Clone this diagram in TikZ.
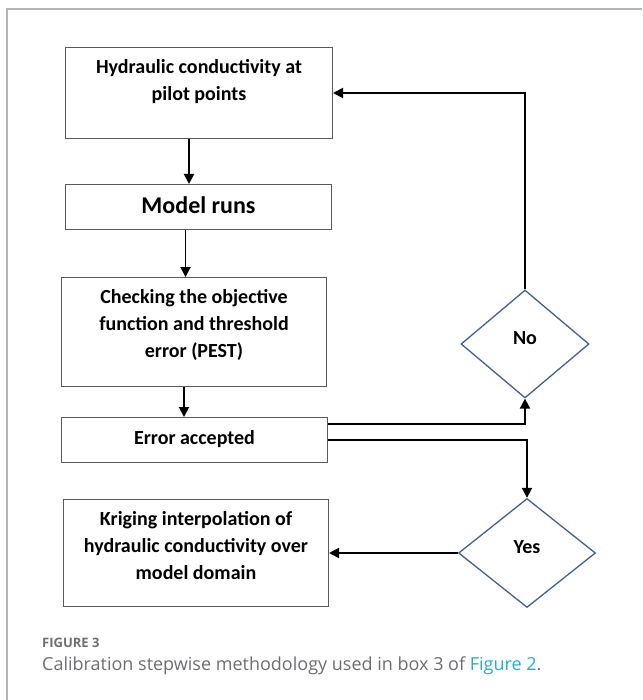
\documentclass[tikz,border=0pt]{standalone}
\usepackage{fontspec}
\setmainfont{Carlito}
\newfontfamily\capfont{Open Sans}
\usepackage{tikz}
\usetikzlibrary{calc,positioning,shapes.geometric,arrows.meta}

\definecolor{boxgray}{HTML}{5A5A5A}
\definecolor{decblue}{HTML}{41618C}
\definecolor{framegray}{HTML}{B4B4B4}
\definecolor{capgray}{HTML}{6D6E71}
\definecolor{linkcyan}{HTML}{2AABC6}

% text block pinned to the top of a box: width, height, first baseline, lines
\newcommand{\boxlines}[4]{\parbox[c][#2pt][t]{#1pt}{\centering\rule{0pt}{#3pt}#4}}

\tikzset{
	flowbox/.style={draw=boxgray,line width=1pt,inner sep=0pt,anchor=north west,
		font=\bfseries\fontsize{20}{27}\selectfont},
	decision/.style={diamond,draw=decblue,line width=1.3pt,inner sep=0pt,text depth=12pt,
		font=\bfseries\fontsize{20}{24}\selectfont},
	flow/.style={draw=black,line width=1.9pt,-{Triangle[length=10pt,width=10pt]}},
	captext/.style={anchor=base west,inner sep=0pt,text=capgray}
}

\begin{document}
\begin{tikzpicture}[x=1pt,y=-1pt]
		\useasboundingbox (0,0) rectangle (642,700);
		\draw[framegray,line width=1.5pt] (7,700) -- (7,9) -- (642,9);

		\node[flowbox] (pilot) at (65,47) {\boxlines{267}{91}{26}{Hydraulic conductivity at\\pilot points}};
		\node[flowbox] (runs) at (65,184) {\boxlines{266}{45}{29}{\fontsize{24}{28}\selectfont Model runs}};
		\node[flowbox] (check) at (61,277) {\boxlines{265}{109}{26}{Checking the objective\\function and threshold\\error (PEST)}};
		\node[flowbox] (accepted) at (61,417) {\boxlines{266}{45}{27}{Error accepted}};
		\node[flowbox] (kriging) at (63,499) {\boxlines{265}{107}{26}{Kriging interpolation of\\hydraulic conductivity over\\model domain}};

		\node[decision,minimum width=128pt,minimum height=108pt] (no) at (525,344) {No};
		\node[decision,minimum width=137pt,minimum height=109pt] (yes) at (527,553) {Yes};

		\draw[flow] ([xshift=-10pt]pilot.south) -- ([xshift=-10pt]pilot.south |- runs.north);
		\draw[flow] ([xshift=-13pt]runs.south) -- ([xshift=-13pt]runs.south |- check.north);
		\draw[flow] ([xshift=-10pt]check.south) -- ([xshift=-10pt]check.south |- accepted.north);
		\draw[flow] ([yshift=16pt]accepted.east) -| (no.south);
		\draw[flow] (accepted.east) -| (yes.north);
		\draw[flow] (yes.west) -- (kriging.east);
		\draw[flow] (no.north) |- (pilot.east);

		\node[captext,font=\capfont\bfseries\fontsize{13}{15}\selectfont] (figlabel) at (42,647) {FIGURE 3};
		\node[captext,font=\capfont\fontsize{18}{21}\selectfont] (caption) at (42,670)
			{Calibration stepwise methodology used in box 3 of \textcolor{linkcyan}{Figure 2}.};
	\end{tikzpicture}
\end{document}
